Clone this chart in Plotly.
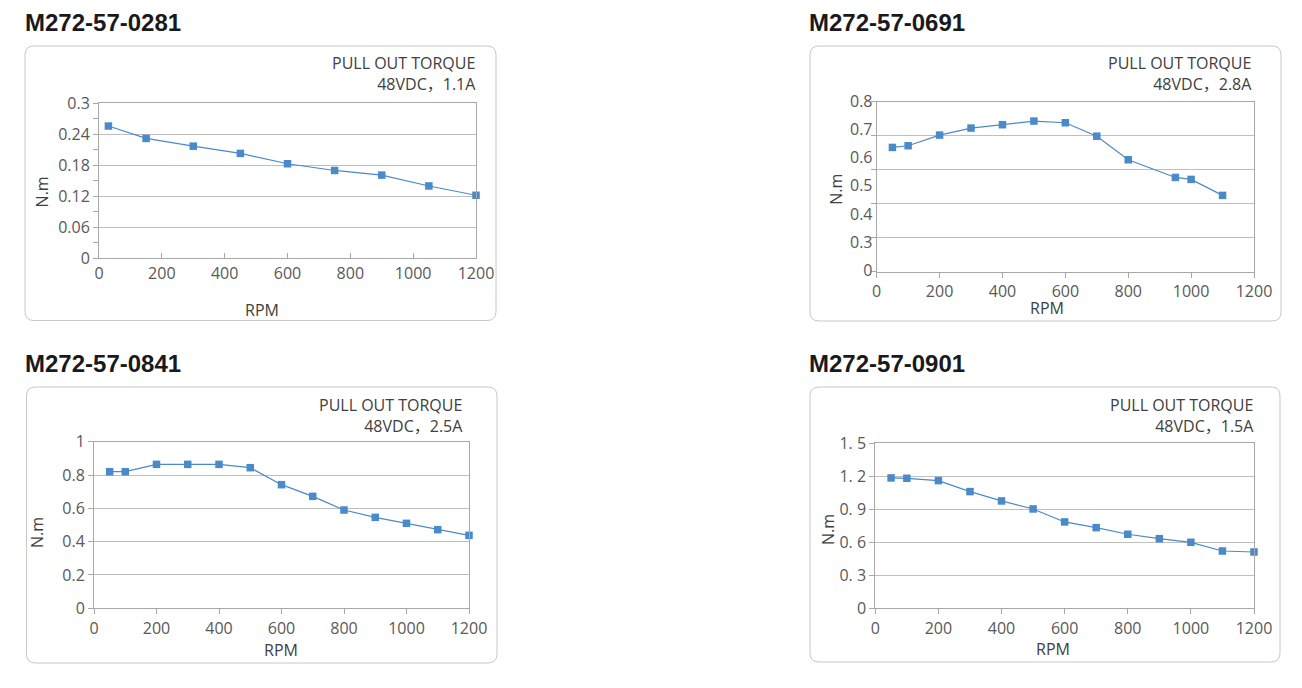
import plotly.graph_objects as go

W, H = 1302, 688

# ---------------- data ----------------
titles = ["M272-57-0281", "M272-57-0691", "M272-57-0841", "M272-57-0901"]
conditions = ["48VDC，1.1A", "48VDC，2.8A", "48VDC，2.5A", "48VDC，1.5A"]

rpm_0281 = [30, 150, 300, 450, 600, 750, 900, 1050, 1200]
torque_0281 = [0.256, 0.232, 0.217, 0.203, 0.183, 0.170, 0.161, 0.140, 0.122]

rpm_0691 = [50, 100, 200, 300, 400, 500, 600, 700, 800, 950, 1000, 1100]
torque_0691 = [0.637, 0.643, 0.681, 0.706, 0.718, 0.731, 0.725, 0.677, 0.593, 0.530, 0.523, 0.466]

rpm_0841 = [50, 100, 200, 300, 400, 500, 600, 700, 800, 900, 1000, 1100, 1200]
torque_0841 = [0.82, 0.82, 0.864, 0.864, 0.864, 0.844, 0.742, 0.672, 0.59, 0.546, 0.51, 0.472, 0.438]

rpm_0901 = [50, 100, 200, 300, 400, 500, 600, 700, 800, 900, 1000, 1100, 1200]
torque_0901 = [1.185, 1.182, 1.161, 1.061, 0.976, 0.903, 0.785, 0.733, 0.673, 0.633, 0.600, 0.521, 0.512]

x_ticks = [0, 200, 400, 600, 800, 1000, 1200]
x_ticktext = ["0", "200", "400", "600", "800", "1000", "1200"]

y1_ticks = [0, 0.06, 0.12, 0.18, 0.24, 0.3]
y1_text = ["0", "0.06", "0.12", "0.18", "0.24", "0.3"]
y1_minor = [0.03, 0.09, 0.15, 0.21, 0.27]

y2_ticks = [0.2, 0.3, 0.4, 0.5, 0.6, 0.7, 0.8]
y2_text = ["0", "0.3", "0.4", "0.5", "0.6", "0.7", "0.8"]
y2_grid = [0.194, 0.315, 0.436, 0.558, 0.679, 0.8]

y3_ticks = [0, 0.2, 0.4, 0.6, 0.8, 1.0]
y3_text = ["0", "0.2", "0.4", "0.6", "0.8", "1"]

y4_ticks = [0, 0.3, 0.6, 0.9, 1.2, 1.5]
y4_text = ["0", "0. 3", "0. 6", "0. 9", "1. 2", "1. 5"]

# ---------------- style ----------------
BLUE = "#4a8ac8"
GRID = "#bfbfbf"
AXIS = "#a8a8a8"
TXT = "#595959"
FONT = "Open Sans, Noto Sans CJK SC"


def px(x):
    return x / W


def py(y):
    return 1 - y / H


fig = go.Figure()

series = [(rpm_0281, torque_0281), (rpm_0691, torque_0691),
          (rpm_0841, torque_0841), (rpm_0901, torque_0901)]
for i, (xs, ys) in enumerate(series):
    sfx = "" if i == 0 else str(i + 1)
    fig.add_trace(go.Scatter(
        x=xs, y=ys, mode="lines+markers", xaxis="x" + sfx, yaxis="y" + sfx,
        line=dict(color=BLUE, width=1.2),
        marker=dict(symbol="square", size=7.5, color=BLUE),
        showlegend=False, hoverinfo="x+y", cliponaxis=False))

# plot areas in pixels: (left, right, top, bottom)
areas = [(99, 476, 103.3, 258.3), (876.7, 1254, 101.7, 271.7),
         (94, 469, 441.7, 608.3), (875.3, 1254, 443.3, 608.3)]

tickfont = dict(family=FONT, size=16, color=TXT)

layout = dict(width=W, height=H,
              margin=dict(l=0, r=0, t=0, b=0, pad=0, autoexpand=False),
              paper_bgcolor="white", plot_bgcolor="white", showlegend=False)

yconfs = [
    dict(range=[0, 0.3], tickvals=y1_ticks, ticktext=y1_text, showgrid=True,
         minor=dict(tickvals=y1_minor, ticks="outside", ticklen=5, tickcolor=AXIS, showgrid=False)),
    dict(range=[0.194, 0.8], tickvals=y2_ticks, ticktext=y2_text, showgrid=False,
         minor=dict(tickvals=y2_grid, ticks="outside", ticklen=5, tickcolor=AXIS,
                    showgrid=True, gridcolor=GRID, gridwidth=1)),
    dict(range=[0, 1.0], tickvals=y3_ticks, ticktext=y3_text, showgrid=True),
    dict(range=[0, 1.5], tickvals=y4_ticks, ticktext=y4_text, showgrid=True),
]
yticks_mode = ["outside", "", "outside", "outside"]
xticks_mode = ["inside", "outside", "outside", "outside"]

for i, (l, r, t, b) in enumerate(areas):
    sfx = "" if i == 0 else str(i + 1)
    layout["xaxis" + sfx] = dict(
        domain=[px(l), px(r)], anchor="y" + sfx, range=[0, 1200],
        tickvals=x_ticks, ticktext=x_ticktext, showgrid=False, zeroline=False,
        showline=True, linecolor=AXIS, linewidth=1, mirror=True, automargin=False,
        ticks=xticks_mode[i], ticklen=5, tickcolor=AXIS, tickfont=tickfont)
    yc = dict(domain=[py(b), py(t)], anchor="x" + sfx, zeroline=False,
              showline=True, linecolor=AXIS, linewidth=1, mirror=True, automargin=False,
              gridcolor=GRID, gridwidth=1,
              ticks=yticks_mode[i], ticklen=5, tickcolor=AXIS, tickfont=tickfont)
    yc.update(yconfs[i])
    layout["yaxis" + sfx] = yc

fig.update_layout(**layout)

# rounded panel boxes
boxes = [(25, 496, 46, 320.5), (810, 1281, 46, 321), (26.5, 497, 387, 663), (810, 1280, 387, 662)]
rad = 9
for (l, r, t, b) in boxes:
    path = (f"M {px(l + rad)},{py(t)} L {px(r - rad)},{py(t)} Q {px(r)},{py(t)} {px(r)},{py(t + rad)} "
            f"L {px(r)},{py(b - rad)} Q {px(r)},{py(b)} {px(r - rad)},{py(b)} "
            f"L {px(l + rad)},{py(b)} Q {px(l)},{py(b)} {px(l)},{py(b - rad)} "
            f"L {px(l)},{py(t + rad)} Q {px(l)},{py(t)} {px(l + rad)},{py(t)} Z")
    fig.add_shape(type="path", path=path, xref="paper", yref="paper",
                  line=dict(color="#c8c8c8", width=1), layer="below")

ann = []
title_pos = [(23, 22), (807, 22), (23, 363), (807, 363)]
for (x, y), ttl in zip(title_pos, titles):
    ann.append(dict(x=px(x), y=py(y), xref="paper", yref="paper", xanchor="left", yanchor="middle",
                    text=f"<b>{ttl}</b>", showarrow=False,
                    font=dict(family="Liberation Sans, Arial", size=24, color="#1a1a1a")))

cond_pos = [(478, 73.5), (1254, 73.5), (465, 415.5), (1256, 415)]
for (x, y), c in zip(cond_pos, conditions):
    ann.append(dict(x=px(x), y=py(y), xref="paper", yref="paper", xanchor="right", yanchor="middle",
                    align="right", text=f"PULL OUT TORQUE<br>{c}", showarrow=False,
                    font=dict(family=FONT, size=16, color="#404040")))

rpm_pos = [(262, 310), (1047, 308), (281, 650), (1053, 649)]
for (x, y) in rpm_pos:
    ann.append(dict(x=px(x), y=py(y), xref="paper", yref="paper", xanchor="center", yanchor="middle",
                    text="RPM", showarrow=False, font=dict(family=FONT, size=16, color="#404040")))

nm_pos = [(41.7, 191.7), (835.7, 189), (37, 533), (828, 530)]
for (x, y) in nm_pos:
    ann.append(dict(x=px(x), y=py(y), xref="paper", yref="paper", xanchor="center", yanchor="middle",
                    text="N.m", textangle=-90, showarrow=False,
                    font=dict(family=FONT, size=16, color="#404040")))

fig.update_layout(annotations=ann)
fig.write_html("out.html")
